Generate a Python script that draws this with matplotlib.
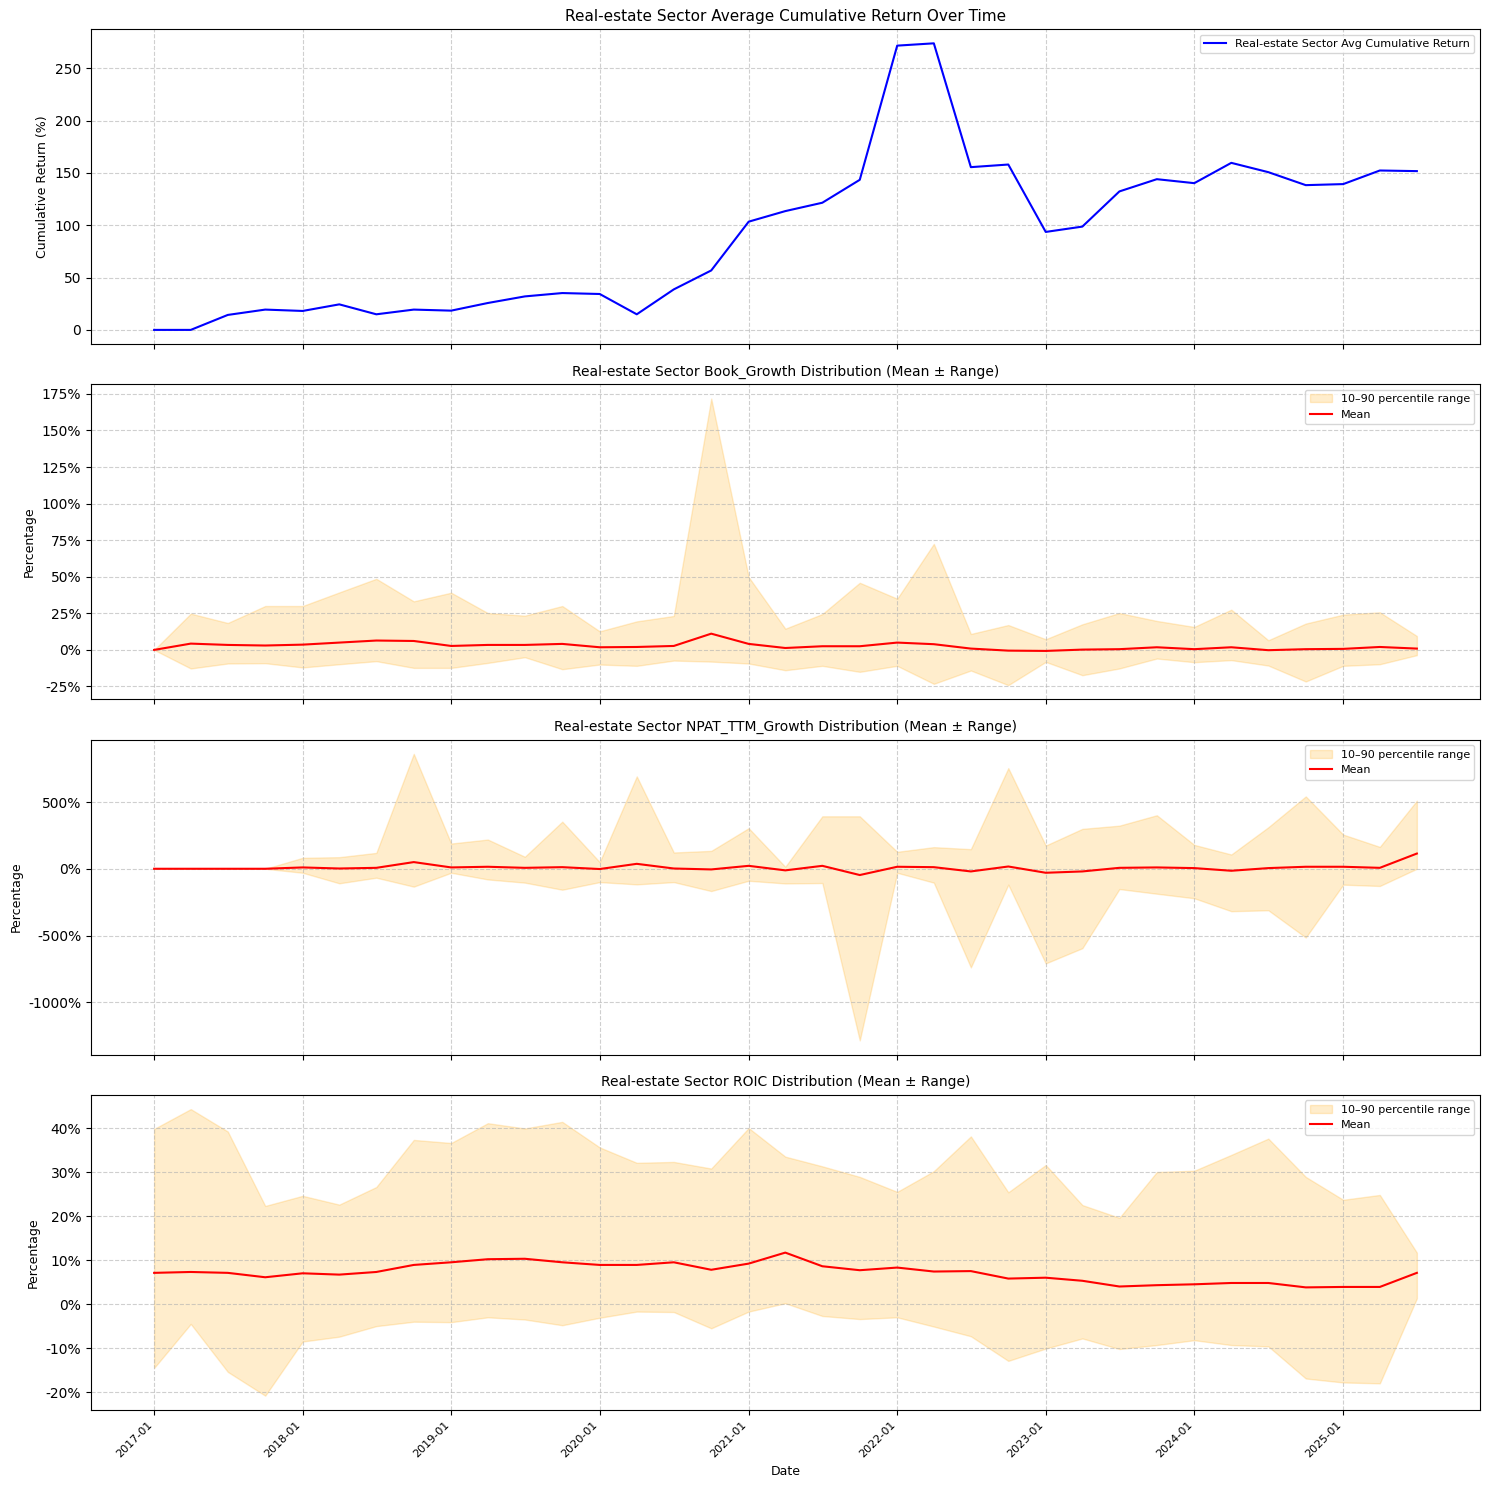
import pandas as pd
import matplotlib
matplotlib.use("Agg")
import matplotlib.pyplot as plt
import matplotlib.dates as mdates
from matplotlib.ticker import FuncFormatter

# quarterly dates, 2017-01 .. 2025-07
dates = pd.date_range("2017-01-01", periods=35, freq="QS")

# sector average cumulative return (%)
cum_return = [0, 0, 14.3, 19.4, 18.1, 24.4, 14.9, 19.4, 18.4, 25.7, 32.0, 35.2,
              34.3, 14.9, 38.7, 56.8, 103.4, 113.5, 121.5, 143.4, 271.6, 273.8,
              155.5, 158.0, 93.6, 98.7, 132.3, 144.0, 140.2, 159.6, 150.7, 138.3,
              139.3, 152.3, 151.7]

# Book_Growth (%)
book_mean = [0, 4.3, 3.4, 3.0, 3.6, 5.0, 6.4, 6.1, 2.7, 3.4, 3.4, 4.1, 1.8, 2.0,
             2.7, 11.1, 4.1, 1.3, 2.5, 2.5, 5.0, 3.9, 0.9, -0.5, -0.7, 0.2, 0.5,
             1.8, 0.5, 1.8, -0.2, 0.5, 0.7, 2.0, 0.9]
book_p10 = [0, -12.7, -9.3, -9.1, -12.0, -9.8, -7.7, -12.3, -12.3, -8.9, -5.0,
            -13.2, -10.0, -10.9, -7.3, -8.0, -9.3, -13.9, -10.9, -15.0, -10.9,
            -23.2, -14.1, -24.1, -8.2, -17.3, -12.7, -5.9, -8.4, -7.0, -10.7,
            -21.6, -10.9, -9.8, -3.6]
book_p90 = [0, 24.8, 18.4, 30.0, 30.0, 39.3, 48.6, 33.2, 39.1, 25.2, 23.4, 30.0,
            12.7, 19.5, 23.2, 171.8, 49.8, 14.5, 24.5, 45.9, 35.0, 72.5, 10.9,
            17.0, 7.3, 17.5, 25.2, 19.8, 15.7, 27.5, 6.6, 18.0, 24.1, 25.7, 9.5]

# NPAT_TTM_Growth (%)
npat_mean = [0, 0, 0, 0, 10, 2, 7, 50, 10, 15, 7, 12, -2, 37, 2, -5, 22, -12,
             22, -47, 15, 12, -20, 17, -30, -20, 7, 10, 5, -15, 5, 15, 15, 7, 114]
npat_p10 = [0, 0, 0, 0, -30, -109, -67, -134, -30, -80, -104, -157, -100, -117,
            -100, -167, -90, -110, -107, -1286, -30, -104, -739, -119, -709, -595,
            -152, -187, -221, -318, -311, -515, -119, -129, 0]
npat_p90 = [0, 0, 0, 0, 82, 87, 119, 861, 189, 219, 90, 353, 50, 692, 122, 134,
            304, 15, 393, 393, 127, 162, 147, 754, 174, 299, 323, 401, 179, 107,
            311, 542, 256, 164, 510]

# ROIC (%)
roic_mean = [7.1, 7.3, 7.1, 6.1, 7.0, 6.7, 7.3, 8.9, 9.5, 10.2, 10.3, 9.5, 8.9,
             8.9, 9.5, 7.8, 9.2, 11.7, 8.6, 7.7, 8.3, 7.4, 7.5, 5.8, 6.0, 5.3,
             4.0, 4.3, 4.5, 4.8, 4.8, 3.8, 3.9, 3.9, 7.1]
roic_p10 = [-14.5, -4.5, -15.4, -20.8, -8.5, -7.4, -5.0, -4.0, -4.1, -3.0, -3.5,
            -4.8, -3.1, -1.7, -1.8, -5.5, -1.7, 0.2, -2.7, -3.4, -3.0, -5.1, -7.3,
            -12.9, -10.1, -7.8, -10.2, -9.3, -8.2, -9.3, -9.6, -16.9, -17.8,
            -18.0, 1.3]
roic_p90 = [39.8, 44.3, 39.2, 22.3, 24.6, 22.6, 26.6, 37.3, 36.6, 41.1, 39.9,
            41.4, 35.6, 32.1, 32.3, 30.8, 40.0, 33.5, 31.3, 28.9, 25.5, 30.2,
            38.1, 25.4, 31.6, 22.5, 19.6, 30.0, 30.3, 33.9, 37.6, 28.9, 23.7,
            24.8, 11.7]

sector = "Real-estate"
metrics = [
    ("Book_Growth", book_mean, book_p10, book_p90),
    ("NPAT_TTM_Growth", npat_mean, npat_p10, npat_p90),
    ("ROIC", roic_mean, roic_p10, roic_p90),
]

fig, axes = plt.subplots(4, 1, figsize=(14.89, 14.89), dpi=100, sharex=True)

# cumulative return panel
ax = axes[0]
ax.plot(dates, cum_return, color="blue", label=f"{sector} Sector Avg Cumulative Return")
ax.set_title(f"{sector} Sector Average Cumulative Return Over Time", fontsize=11)
ax.set_ylabel("Cumulative Return (%)", fontsize=9)
ax.grid(True, linestyle="--", alpha=0.6)
ax.legend(loc="upper right", fontsize=8)

pct = FuncFormatter(lambda y, _: f"{y:.0f}%")

for ax, (name, mean, lo, hi) in zip(axes[1:], metrics):
    ax.fill_between(dates, lo, hi, color="orange", alpha=0.2, label="10\u201390 percentile range")
    ax.plot(dates, mean, color="red", label="Mean")
    ax.set_title(f"{sector} Sector {name} Distribution (Mean \u00b1 Range)", fontsize=10)
    ax.set_ylabel("Percentage", fontsize=9)
    ax.yaxis.set_major_formatter(pct)
    ax.grid(True, linestyle="--", alpha=0.6)
    ax.legend(loc="upper right", fontsize=8)

axes[-1].set_xlabel("Date", fontsize=9)
axes[-1].xaxis.set_major_locator(mdates.YearLocator())
axes[-1].xaxis.set_major_formatter(mdates.DateFormatter("%Y-%m"))
plt.setp(axes[-1].get_xticklabels(), rotation=45, ha="right", fontsize=8)

fig.subplots_adjust(left=91 / 1489, right=1480 / 1489, top=1 - 29 / 1489,
                    bottom=1 - 1410 / 1489, hspace=0.127)
fig.savefig("out.png", dpi=100)
